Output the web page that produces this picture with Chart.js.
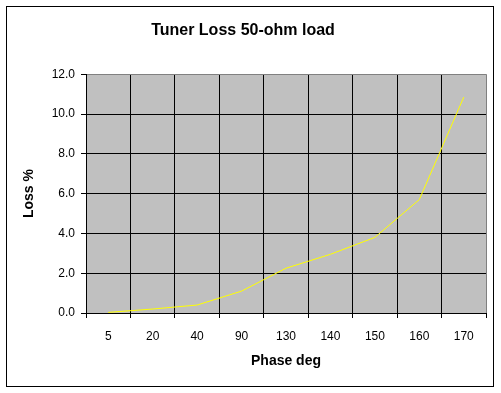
<!DOCTYPE html>
<html>
<head>
<meta charset="utf-8">
<script src="https://cdn.jsdelivr.net/npm/chart.js@4/dist/chart.umd.min.js"></script>
<style>
  html, body { margin: 0; padding: 0; background: #fff; }
  #wrap { width: 501px; height: 393px; }
</style>
</head>
<body>
<div id="wrap"><canvas id="lossChart" width="501" height="393"></canvas></div>
<script>
// phase categories and measured loss
const phaseLabels = ["5", "20", "40", "90", "130", "140", "150", "160", "170"];
const lossValues = [0.03, 0.2, 0.4, 1.1, 2.25, 2.95, 3.8, 5.7, 10.85];
const yTicks = [0, 2, 4, 6, 8, 10, 12];

const FONT = "'Liberation Sans', Arial, sans-serif";

// gray plot area and outer frame, Excel style
const excelFrame = {
    id: "excelFrame",
    beforeDraw(chart) {
        const { ctx, chartArea } = chart;
        ctx.save();
        ctx.fillStyle = "#fff";
        ctx.fillRect(0, 0, chart.width, chart.height);
        ctx.fillStyle = "#c0c0c0";
        ctx.fillRect(chartArea.left, chartArea.top, chartArea.right - chartArea.left, chartArea.bottom - chartArea.top);
        ctx.strokeStyle = "#000";
        ctx.lineWidth = 1;
        ctx.strokeRect(6.5, 6.5, 487, 380);
        ctx.restore();
    }
};

new Chart(document.getElementById("lossChart").getContext("2d"), {
    type: "line",
    data: {
        labels: phaseLabels,
        datasets: [{
            label: "Loss",
            data: lossValues,
            borderColor: "#ffff00",
            borderWidth: 1,
            pointRadius: 0,
            tension: 0,
            fill: false
        }]
    },
    options: {
        responsive: false,
        animation: false,
        layout: { padding: { left: 0, right: 15, top: 0, bottom: 0 } },
        plugins: {
            legend: { display: false },
            tooltip: { enabled: false },
            title: {
                display: true,
                text: "Tuner Loss 50-ohm load",
                color: "#000",
                font: { family: FONT, size: 16, weight: "bold" },
                padding: { top: 21, bottom: 34 }
            }
        },
        scales: {
            x: {
                offset: true,
                grid: {
                    offset: true,
                    color: ctx => ctx.type === "tick" ? "#000" : "#808080",
                    tickColor: "#000",
                    tickLength: 5,
                    lineWidth: 1
                },
                border: { color: "#000" },
                ticks: {
                    color: "#000",
                    font: { family: FONT, size: 12 },
                    padding: 11,
                    maxRotation: 0,
                    autoSkip: false
                },
                title: {
                    display: true,
                    text: "Phase deg",
                    color: "#000",
                    font: { family: FONT, size: 14, weight: "bold" },
                    padding: { top: 0, bottom: 23 }
                },
                afterFit: s => { s.height = 80; }
            },
            y: {
                min: 0,
                max: 12,
                afterBuildTicks: s => { s.ticks = yTicks.map(v => ({ value: v })); },
                grid: {
                    color: ctx => ctx.tick && ctx.tick.value === 12 ? "#808080" : "#000",
                    tickColor: "#000",
                    tickLength: 5,
                    lineWidth: 1
                },
                border: { color: "#000" },
                ticks: {
                    color: "#000",
                    font: { family: FONT, size: 12 },
                    padding: 6,
                    callback: v => Number(v).toFixed(1)
                },
                title: {
                    display: true,
                    text: "Loss %",
                    color: "#000",
                    font: { family: FONT, size: 14, weight: "bold" },
                    padding: { top: 21, bottom: 0 }
                },
                afterFit: s => { s.width = 86; }
            }
        }
    },
    plugins: [excelFrame]
});
</script>
</body>
</html>
